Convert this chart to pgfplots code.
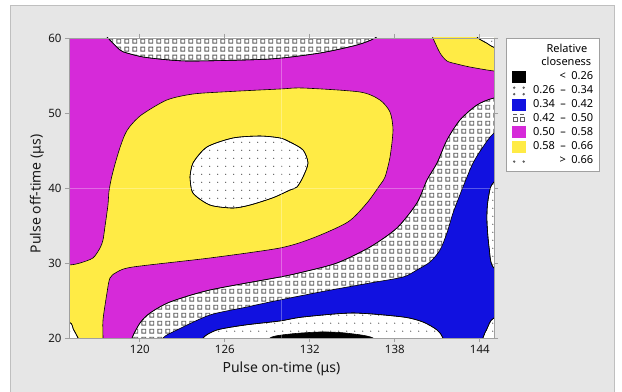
\documentclass[border=0pt]{standalone}
\usepackage{fontspec}
\setmainfont{Noto Sans}
\usepackage{pgfplots}
\pgfplotsset{compat=1.18}
\usetikzlibrary{patterns}

\definecolor{cmag}{RGB}{214,42,217}
\definecolor{cyel}{RGB}{255,235,69}
\definecolor{cblu}{RGB}{17,17,224}
\definecolor{cpanel}{RGB}{230,230,230}
\definecolor{caxis}{RGB}{160,160,160}
\definecolor{cpat}{RGB}{95,95,95}

\pgfdeclarepatternformonly{mdots}{\pgfpointorigin}{\pgfpoint{8.3bp}{8.3bp}}{\pgfpoint{8.3bp}{8.3bp}}{%
  \pgfpathcircle{\pgfpoint{4bp}{4bp}}{0.75bp}\pgfusepath{fill}}
\pgfdeclarepatternformonly{msquares}{\pgfpointorigin}{\pgfpoint{8.3bp}{8.3bp}}{\pgfpoint{8.3bp}{8.3bp}}{%
  \pgfsetlinewidth{0.9bp}\pgfpathrectangle{\pgfpoint{2bp}{2bp}}{\pgfpoint{4.2bp}{4.2bp}}\pgfusepath{stroke}}

\tikzset{
  reg/.style={draw=black, line width=0.6bp, line join=round, smooth, tension=0.45},
  sq/.style={reg, fill=white, postaction={pattern=msquares, pattern color=cpat}},
  dt/.style={reg, fill=white, postaction={pattern=mdots, pattern color=cpat}},
}

\begin{document}
\begin{tikzpicture}
\useasboundingbox (-69bp,-54bp) rectangle (553bp,338bp);
\fill[white] (-69bp,-54bp) rectangle (553bp,338bp);
\fill[cpanel] (-59bp,-56bp) rectangle (545bp,333bp);
\draw[black!25, line width=0.6bp] (-59bp,-56bp) rectangle (545bp,333bp);
\begin{axis}[
  at={(0,0)}, anchor=south west,
  scale only axis, width=425bp, height=300bp,
  xmin=115, xmax=145, ymin=20, ymax=60,
  xtick={120,126,132,138,144}, ytick={20,30,40,50,60},
  tick align=outside, major tick length=4bp,
  axis line style={draw=caxis, line width=0.8bp},
  tick style={draw=caxis, line width=0.8bp},
  axis on top,
  axis background/.style={fill=cmag},
  /pgf/number format/assume math mode=true,
  tick label style={font=\fontsize{11.5bp}{13bp}\selectfont, text=black!90},
  xlabel={Pulse on-time (μs)}, ylabel={Pulse off-time (μs)},
  every axis x label/.style={at={(axis description cs:0.5,-0.1033)}, anchor=center,
    font=\fontsize{14bp}{16bp}\selectfont, text=black!90},
  every axis y label/.style={at={(axis description cs:-0.0753,0.48)}, anchor=center, rotate=90,
    font=\fontsize{14bp}{16bp}\selectfont, text=black!90},
  legend image code/.code={\path[#1] (0bp,-5.5bp) rectangle (13bp,5.5bp);},
  legend cell align=right,
  legend style={at={(1.028,1.0)}, anchor=north west, draw=caxis, fill=white,
    line width=0.8bp,
    font=\fontsize{11bp}{13bp}\selectfont,
    inner xsep=6bp, inner ysep=5.5bp, row sep=2.5bp,
    nodes={inner sep=0bp, text height=8.5bp, text depth=2.5bp},
    /tikz/every odd column/.append style={column sep=7bp}},
]
% top squares region (0.42-0.50)
\addplot[sq, forget plot] coordinates {(117.0,61.5) (117.75,60) (118.6,58.4) (119.09,58.0) (120.22,57.47) (121.9,57.1) (123.75,56.93) (129.19,57.2) (132.72,58.0) (135.33,59.07) (136.6,60) (137.5,61.5)};
% yellow main region (0.58-0.66)
\addplot[reg, fill=cyel, forget plot] coordinates {(113,18) (117.40,18) (117.40,20) (117.40,22.4) (117.68,26.0) (117.89,28.0) (118.39,28.8) (119.52,29.47) (124.95,30.67) (129.89,32.0) (132.22,33.33) (134.69,35.47) (136.03,38.0) (136.95,40.4) (137.31,41.47) (137.66,44.13) (137.87,47.73) (137.66,50.13) (136.95,51.73) (135.54,52.8) (131.52,53.33) (129.89,53.2) (126.15,52.84) (123.75,52.53) (121.90,51.73) (120.10,49.73) (119.28,48.17) (118.93,47.07) (118.58,45.29) (118.23,43.07) (117.99,41.29) (117.82,39.51) (117.75,37.73) (117.55,35.0) (117.40,33.07) (117.19,32.0) (116.69,30.67) (115.78,30.0) (115,29.73) (113,29.6)};
% centre dotted region (>0.66)
\addplot[dt, forget plot] coordinates {(123.54,41.47) (123.75,43.33) (124.74,45.47) (126.58,46.67) (128.48,46.93) (129.89,46.67) (130.60,46.13) (131.52,45.07) (131.87,43.33) (131.52,41.47) (131.09,40.13) (130.60,39.73) (129.4,38.7) (127.78,37.73) (126.58,37.33) (124.95,37.73) (123.75,39.33) (123.54,41.47)};
% top right yellow (0.58-0.66)
\addplot[reg, fill=cyel, forget plot] coordinates {(140.4,61.5) (140.69,60) (141.19,58.0) (141.68,56.93) (142.39,56.53) (143.31,56.13) (145,55.6) (147,55.3) (147,62)};
% top right corner (>0.66)
\addplot[dt, forget plot] coordinates {(143.5,61) (143.87,60) (144.5,59.3) (145,58.75) (146.5,57.8) (147,57.5) (147,62)};
% bottom left corner (>0.66)
\addplot[dt, forget plot] coordinates {(113,23) (115,22.13) (115.3,21.2) (115.64,20) (116,18.5) (113,18)};
% right squares region (0.42-0.50)
\addplot[sq, forget plot] coordinates {(119.2,18) (119.45,20) (120.01,22.0) (120.72,23.33) (122.13,24.8) (124.95,26.4) (129.89,28.13) (131.52,28.8) (133.92,30.0) (136.25,32.13) (138.15,34.67) (139.56,38.0) (140.27,41.07) (140.98,43.33) (141.68,46.4) (142.6,49.07) (143.8,51.07) (145,52.0) (147,52.5) (147,18)};
% blue region (0.34-0.42)
\addplot[reg, fill=cblu, forget plot] coordinates {(121.3,18) (121.64,20) (122.62,21.07) (124.95,23.07) (127.56,24.13) (129.19,24.8) (132.72,26.13) (136.25,27.33) (138.58,28.13) (139.56,29.07) (140.48,30.13) (141.19,31.73) (141.68,34.0) (142.11,36.67) (142.81,40.13) (143.52,43.33) (144.22,45.47) (145,47.33) (147,50) (147,18)};
% bottom dotted region (0.26-0.34)
\addplot[dt, forget plot] coordinates {(124.2,18) (124.46,20) (125.45,21.07) (127.42,21.73) (129.89,22.27) (131.52,22.8) (135.05,23.33) (138.58,22.8) (139.99,22.13) (140.98,21.07) (141.4,20) (141.6,18)};
% black region (<0.26)
\addplot[reg, fill=black, forget plot] coordinates {(128.9,18) (129.19,20) (130.6,20.53) (132.72,20.8) (134.48,20.67) (136.46,20) (136.7,18)};
% right edge dotted region (0.26-0.34)
\addplot[dt, forget plot] coordinates {(147,41.5) (145,40.8) (144.58,38.4) (144.5,35.73) (144.65,32.13) (145,29.33) (147,28.5)};
% bottom right corner (0.26-0.34)
\addplot[dt, forget plot] coordinates {(147,23.5) (145,22.67) (144.5,21.2) (144.22,20) (144,18) (147,18)};
% faint reference lines
\addplot[forget plot, white, opacity=0.3, line width=0.6bp] coordinates {(130,20) (130,60)};
\addplot[forget plot, white, opacity=0.3, line width=0.6bp] coordinates {(115,40) (145,40)};

\addlegendimage{empty legend}
\addlegendentry[xshift=-6bp]{Relative}
\addlegendimage{empty legend}
\addlegendentry[xshift=-2bp]{closeness}
\addlegendimage{legend image code/.code={\fill[black] (0bp,-5.5bp) rectangle (13bp,5.5bp);}}
\addlegendentry{<\enspace0.26}
\addlegendimage{legend image code/.code={\fill[cpat] (1.5bp,3bp) circle[radius=0.75bp] (11bp,3bp) circle[radius=0.75bp] (1.5bp,-3.5bp) circle[radius=0.75bp] (11bp,-3.5bp) circle[radius=0.75bp];}}
\addlegendentry{0.26\enspace–\enspace0.34}
\addlegendimage{legend image code/.code={\fill[cblu] (0bp,-5.5bp) rectangle (13bp,5.5bp);}}
\addlegendentry{0.34\enspace–\enspace0.42}
\addlegendimage{legend image code/.code={\draw[cpat, line width=0.9bp] (0.5bp,-3bp) rectangle (4.5bp,1bp) (7.5bp,-3bp) rectangle (11.5bp,1bp); \draw[cpat, line width=0.9bp] (0.5bp,4.5bp) -- (4.5bp,4.5bp) (7.5bp,4.5bp) -- (11.5bp,4.5bp);}}
\addlegendentry{0.42\enspace–\enspace0.50}
\addlegendimage{legend image code/.code={\fill[cmag] (0bp,-5.5bp) rectangle (13bp,5.5bp);}}
\addlegendentry{0.50\enspace–\enspace0.58}
\addlegendimage{legend image code/.code={\fill[cyel] (0bp,-5.5bp) rectangle (13bp,5.5bp);}}
\addlegendentry{0.58\enspace–\enspace0.66}
\addlegendimage{legend image code/.code={\fill[cpat] (1.5bp,-1bp) circle[radius=0.75bp] (11bp,-1bp) circle[radius=0.75bp];}}
\addlegendentry{>\enspace0.66}
\end{axis}
\end{tikzpicture}
\end{document}
